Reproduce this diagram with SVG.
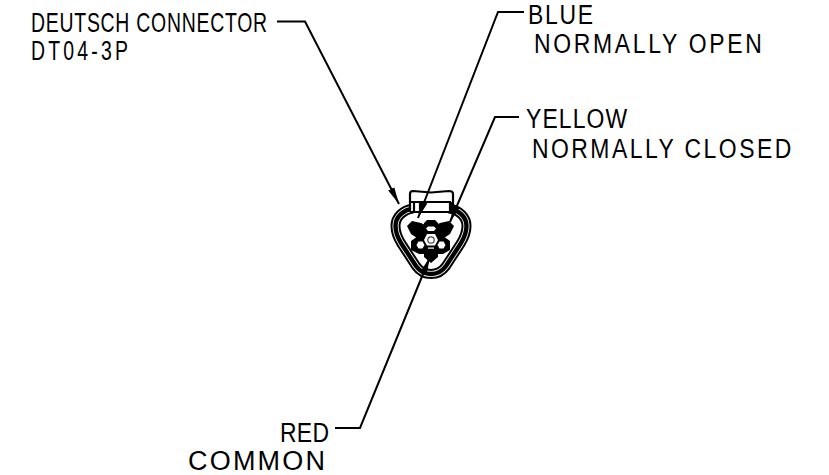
<svg xmlns="http://www.w3.org/2000/svg" width="829" height="475" viewBox="0 0 829 475">
<style>
text{font-family:"Liberation Sans",Arial,sans-serif;font-size:27px;fill:#000}
.lead{fill:none;stroke:#000;stroke-width:2;marker-end:url(#arrow)}
.thick{fill:none;stroke:#000;stroke-width:2.200}
.b{fill:#000}
.w{fill:#fff}
.shell{fill:none;stroke-linejoin:round}
</style>
<defs>
<marker id="arrow" markerUnits="userSpaceOnUse" markerWidth="20" markerHeight="10" refX="17" refY="4" orient="auto">
<path d="M0 0.600L17 4L0 7.400Z" fill="#000"/>
</marker>
<path id="outline" d="M413 208.500C403 210 395.500 217 395.500 226C395.500 232 398 238 401 243L416 266C421 273 426 274 431 274C436 274 441 273 446 266L461 243C464 238 466.500 232 466.500 226C466.500 217 459 210 449 208.500"/>
</defs>
<rect width="829" height="475" fill="#fff"/>
<g id="connector-body">
<use href="#outline" class="shell" stroke="#000" stroke-width="10"/>
<use href="#outline" class="shell" stroke="#fff" stroke-width="6"/>
<use href="#outline" class="shell" stroke="#000" stroke-width="4.400"/>
<path class="w" d="M409 192H453V212H409Z"/>
<path class="thick" d="M410 212V194Q410 191 413 191L431 192.500L449 191Q453 191 453 194V212"/>
<path class="thick" d="M410 202H451M410 212H453"/>
<path class="thick" d="M414 202V212M450 202V212M420 202V212M451 202V212"/>
<path class="b" d="M407 226L412 221L421 223L429 227L426 238L417 238L411 234Z"/>
<path class="b" d="M454 226L449 221L440 223L432 227L435 238L444 238L450 234Z"/>
<path class="b" d="M424 223L427 220H435L438 223L439 231L443 236L450 241V250L443 254H438V257L431 263L424 257V254H419L411 250V241L418 236L423 231Z"/>
<path class="w" d="M428 226.500H434L436 228.500L434 231H428L426 228.500Z"/>
<path class="w" d="M427 234H435L438 240L435 245.500H427L424 240Z"/>
<circle cx="431" cy="240" r="3.200" fill="none" stroke="#444" stroke-width="1.200"/>
<path class="w" d="M418.500 241.500H422.500L424.500 245L422.500 248.500H418.500L416.500 245Z"/>
<path class="w" d="M439.500 241.500H443.500L445.500 245L443.500 248.500H439.500L437.500 245Z"/>
<path class="w" d="M428 247.500H434V248.700H428Z"/>
</g>
<g id="connectors">
<path class="lead" d="M277 21.500H305L399 204"/>
<path class="lead" d="M524 12H498L418 218"/>
<path class="lead" d="M519 117H495L450 222"/>
<path class="lead" d="M335 428H360L430 257"/>
</g>
<g id="label-deutsch">
<text transform="translate(31 32) scale(.72 1)" textLength="328" lengthAdjust="spacing">DEUTSCH CONNECTOR</text>
<text transform="translate(31 60) scale(.72 1)" textLength="134.700" lengthAdjust="spacing">DT04-3P</text>
</g>
<g id="label-blue">
<text transform="translate(528 24) scale(.85 1)" textLength="76.500" lengthAdjust="spacing">BLUE</text>
<text transform="translate(534 53) scale(.85 1)" textLength="268" lengthAdjust="spacing">NORMALLY OPEN</text>
</g>
<g id="label-yellow">
<text transform="translate(526 128) scale(.85 1)" textLength="119" lengthAdjust="spacing">YELLOW</text>
<text transform="translate(532 158) scale(.85 1)" textLength="305" lengthAdjust="spacing">NORMALLY CLOSED</text>
</g>
<g id="label-red">
<text transform="translate(280 442) scale(.85 1)" textLength="57.600" lengthAdjust="spacing">RED</text>
<text x="188" y="470" textLength="137" lengthAdjust="spacing">COMMON</text>
</g>
</svg>
